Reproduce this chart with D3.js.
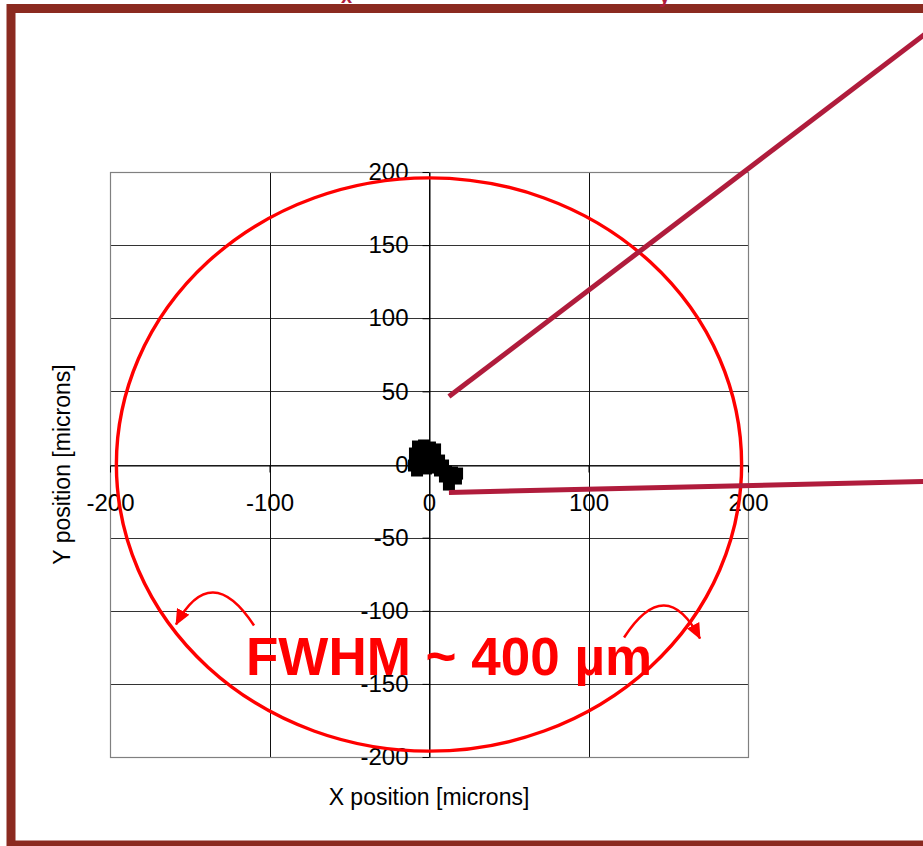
<!DOCTYPE html>
<html>
<head>
<meta charset="utf-8">
<script src="https://cdn.jsdelivr.net/npm/d3@7"></script>
<style>
  html, body { margin: 0; padding: 0; background: #fff; }
  svg { display: block; font-family: "Liberation Sans", Arial, sans-serif; }
</style>
</head>
<body>
<svg id="chart" width="923" height="846"></svg>
<script>
// Beam centroid positions, microns
const xPositions = [-6.9, -3.1, 0.6, 3.8, -8.8, -4.4, -0.6, 3.1, -8.8, -5.0, -1.3, 2.5,
                    -6.3, -1.9, 1.9, 5.6, 6.9, 10.7, 14.4, 17.6, 10.0, 13.2, 16.9, 12.5,
                    -9.4, -7.5, 6.3, 8.8];
const yPositions = [12.3, 13.0, 11.6, 10.3, 7.5, 8.2, 6.8, 6.2, 2.1, 2.7, 2.1, 1.4,
                    -2.1, -2.7, -2.1, -1.4, -4.1, -4.8, -5.5, -6.2, -8.2, -8.9, -9.6, -13.7,
                    -0.7, -4.1, 2.7, -0.7];

// Axis ticks, microns
const xTicks = [-200, -100, 0, 100, 200];
const yTicks = [-200, -150, -100, -50, 0, 50, 100, 150, 200];

// Beam spot outline (FWHM diameter), microns
const fwhmDiameter = 392;
const fwhmLabel = "FWHM ~ 400 \u00b5m";

// Call-out lines to the zoomed views, microns
const calloutStarts = [[12.5, 46.5], [12.5, -19.1]];
const calloutEnds   = [[342, 320], [342, -10.8]];

// Curved arrows pointing at the spot edge: tail, apex, tip (microns)
const arrowTails = [[-109.7, -110.1], [122.3, -118.3]];
const arrowApexes = [[-135.4, -87.5], [147.3, -96.4]];
const arrowTips  = [[-158.6, -109.4], [169.9, -119.0]];

const svg = d3.select("#chart");

const x = d3.scaleLinear().domain([-200, 200]).range([110, 748]);
const y = d3.scaleLinear().domain([-200, 200]).range([757, 172]);

// Slide frame
svg.append("rect")
  .attr("x", 11).attr("y", 8.5)
  .attr("width", 1000).attr("height", 836.5)
  .attr("fill", "none")
  .attr("stroke", "#8b2a20")
  .attr("stroke-width", 9);

// Title (sits mostly above the visible area)
const title = svg.append("text")
  .attr("y", -9)
  .attr("fill", "#b01c3c")
  .attr("font-weight", "bold")
  .attr("font-size", 30);
title.append("tspan").attr("x", 120).text("Spot jitter: \u03c3");
title.append("tspan").attr("x", 341).attr("dy", 12).attr("font-size", 20).text("x");
title.append("tspan").attr("dy", -12).text(" ~ 6 \u00b5m, \u03c3");
title.append("tspan").attr("x", 659).attr("dy", 12).attr("font-size", 20).text("y");

// Grid
const grid = svg.append("g");
grid.selectAll("line.h").data(yTicks).join("line")
  .attr("class", "h")
  .attr("x1", x(-200)).attr("x2", x(200))
  .attr("y1", d => Math.round(y(d)) + 0.5).attr("y2", d => Math.round(y(d)) + 0.5)
  .attr("stroke", "#333").attr("stroke-width", 1);
grid.selectAll("line.v").data(xTicks).join("line")
  .attr("class", "v")
  .attr("y1", y(200)).attr("y2", y(-200))
  .attr("x1", d => Math.round(x(d)) + 0.5).attr("x2", d => Math.round(x(d)) + 0.5)
  .attr("stroke", "#111").attr("stroke-width", 1);
grid.append("rect")
  .attr("x", Math.round(x(-200)) + 0.5).attr("y", Math.round(y(200)) + 0.5)
  .attr("width", Math.round(x(200)) - Math.round(x(-200)))
  .attr("height", Math.round(y(-200)) - Math.round(y(200)))
  .attr("fill", "none").attr("stroke", "#808080").attr("stroke-width", 1.2);

// Axes crossing at the origin
const fmt = d => String(d);
const xAxis = svg.append("g")
  .attr("transform", `translate(0,${Math.round(y(0)) + 0.5})`)
  .call(d3.axisBottom(x).tickValues(xTicks).tickFormat(fmt).tickSize(7).tickPadding(21).tickSizeOuter(0));
const yAxis = svg.append("g")
  .attr("transform", `translate(${Math.round(x(0)) + 0.5},0)`)
  .call(d3.axisLeft(y).tickValues(yTicks).tickFormat(fmt).tickSize(7).tickPadding(14).tickSizeOuter(0));
[xAxis, yAxis].forEach(a => {
  a.selectAll("path.domain").attr("stroke", "#000");
  a.selectAll(".tick line").attr("stroke", "#000");
  a.selectAll("text").attr("font-size", 24).attr("fill", "#000")
    .attr("font-family", "'Liberation Sans', Arial, sans-serif");
});

// Axis titles
svg.append("text")
  .attr("x", x(0)).attr("y", 805)
  .attr("text-anchor", "middle")
  .attr("font-size", 23)
  .text("X position [microns]");
svg.append("text")
  .attr("transform", `translate(70,${y(0)}) rotate(-90)`)
  .attr("text-anchor", "middle")
  .attr("font-size", 23)
  .text("Y position [microns]");

// FWHM outline
svg.append("ellipse")
  .attr("cx", x(0)).attr("cy", y(0))
  .attr("rx", x(fwhmDiameter / 2) - x(0))
  .attr("ry", y(0) - y(fwhmDiameter / 2))
  .attr("fill", "none")
  .attr("stroke", "#ff0000")
  .attr("stroke-width", 3.4);

// Centroid markers
const pts = xPositions.map((v, i) => [v, yPositions[i]]);
const m = 12;
svg.append("g").selectAll("rect").data(pts).join("rect")
  .attr("x", d => x(d[0]) - m / 2)
  .attr("y", d => y(d[1]) - m / 2)
  .attr("width", m).attr("height", m)
  .attr("fill", "#000");

// Call-out lines
svg.append("g").selectAll("line").data(calloutStarts).join("line")
  .attr("x1", d => x(d[0])).attr("y1", d => y(d[1]))
  .attr("x2", (d, i) => x(calloutEnds[i][0])).attr("y2", (d, i) => y(calloutEnds[i][1]))
  .attr("stroke", "#b01c3c")
  .attr("stroke-width", 5);

// FWHM label
svg.append("text")
  .attr("x", 246).attr("y", 675)
  .attr("fill", "#ff0000")
  .attr("font-weight", "bold")
  .attr("font-size", 53)
  .text(fwhmLabel);

// Curved arrows
const defs = svg.append("defs");
defs.append("marker")
  .attr("id", "head")
  .attr("markerUnits", "userSpaceOnUse")
  .attr("viewBox", "0 0 16 14")
  .attr("refX", 15).attr("refY", 7)
  .attr("markerWidth", 16).attr("markerHeight", 14)
  .attr("orient", "auto")
  .append("path")
  .attr("d", "M0,0 L16,7 L0,14 Z")
  .attr("fill", "#ff0000");

svg.append("g").selectAll("path").data(arrowTails).join("path")
  .attr("d", (d, i) => {
    const p0 = [x(d[0]), y(d[1])];
    const pa = [x(arrowApexes[i][0]), y(arrowApexes[i][1])];
    const p2 = [x(arrowTips[i][0]), y(arrowTips[i][1])];
    const c = [2 * pa[0] - (p0[0] + p2[0]) / 2, 2 * pa[1] - (p0[1] + p2[1]) / 2];
    const p = d3.path();
    p.moveTo(p0[0], p0[1]);
    p.quadraticCurveTo(c[0], c[1], p2[0], p2[1]);
    return p.toString();
  })
  .attr("fill", "none")
  .attr("stroke", "#ff0000")
  .attr("stroke-width", 2.5)
  .attr("marker-end", "url(#head)");
</script>
</body>
</html>
